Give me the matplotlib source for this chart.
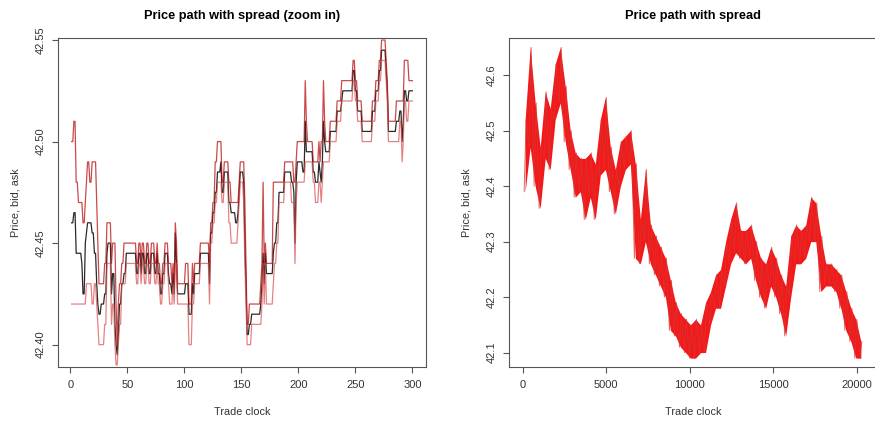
import numpy as np
import matplotlib
matplotlib.use("Agg")
import matplotlib.pyplot as plt

# zoom-in window: runs of constant quotes (run length, bid, trade price, ask)
run_len = [2, 2, 2, 3, 1, 2, 1, 1, 2, 2, 2, 2, 1, 1, 2, 3, 2, 1, 3, 1,
           2, 1, 1, 1, 1, 2, 2, 2, 9, 2, 2, 1, 2, 2, 2, 2, 3, 2, 1, 2,
           2, 2, 3, 1, 2, 1, 1, 1, 1, 1, 7, 3, 3, 1, 1, 5, 8, 1, 2, 2,
           2, 3, 1, 2, 4, 2, 4, 2, 1, 1, 3, 1, 1, 1, 2, 2, 8, 1, 1, 1,
           1, 1, 6, 1, 2, 2, 5, 6, 2, 1, 1, 1, 5, 2, 1, 1, 5, 2, 3, 1,
           1, 1, 1, 1, 1, 4, 6, 4, 1, 9, 2, 2, 4, 9, 3, 3, 2, 4, 1, 1,
           7, 3, 2, 1, 1, 2, 2, 4]
bid_run = [42.42, 42.42, 42.42, 42.42, 42.42, 42.42, 42.42, 42.43, 42.43, 42.43,
           42.42, 42.43, 42.42, 42.41, 42.40, 42.40, 42.41, 42.44, 42.44, 42.41,
           42.42, 42.40, 42.39, 42.39, 42.40, 42.41, 42.43, 42.43, 42.44, 42.43,
           42.44, 42.43, 42.44, 42.43, 42.44, 42.43, 42.44, 42.43, 42.44, 42.43,
           42.42, 42.43, 42.44, 42.43, 42.42, 42.42, 42.43, 42.42, 42.44, 42.44,
           42.42, 42.42, 42.40, 42.42, 42.42, 42.43, 42.44, 42.42, 42.45, 42.46,
           42.47, 42.48, 42.48, 42.47, 42.48, 42.46, 42.45, 42.45, 42.46, 42.47,
           42.48, 42.47, 42.44, 42.42, 42.40, 42.40, 42.41, 42.41, 42.42, 42.44,
           42.42, 42.44, 42.42, 42.43, 42.44, 42.45, 42.47, 42.48, 42.47, 42.47,
           42.44, 42.47, 42.48, 42.48, 42.49, 42.49, 42.49, 42.48, 42.47, 42.48,
           42.48, 42.47, 42.48, 42.49, 42.49, 42.49, 42.50, 42.51, 42.52, 42.52,
           42.53, 42.52, 42.51, 42.50, 42.51, 42.52, 42.53, 42.54, 42.53, 42.52,
           42.50, 42.50, 42.51, 42.49, 42.50, 42.52, 42.51, 42.52]
price_run = [42.460, 42.465, 42.445, 42.445, 42.440, 42.425, 42.450, 42.455, 42.460, 42.460,
             42.455, 42.445, 42.430, 42.420, 42.415, 42.420, 42.425, 42.445, 42.450, 42.425,
             42.435, 42.410, 42.400, 42.395, 42.405, 42.420, 42.430, 42.435, 42.445, 42.435,
             42.445, 42.435, 42.445, 42.435, 42.445, 42.435, 42.445, 42.435, 42.445, 42.435,
             42.425, 42.435, 42.445, 42.435, 42.430, 42.425, 42.435, 42.425, 42.455, 42.440,
             42.425, 42.430, 42.415, 42.430, 42.425, 42.435, 42.445, 42.430, 42.455, 42.465,
             42.475, 42.485, 42.490, 42.475, 42.485, 42.470, 42.465, 42.460, 42.465, 42.475,
             42.485, 42.480, 42.450, 42.430, 42.405, 42.410, 42.415, 42.420, 42.430, 42.445,
             42.430, 42.445, 42.435, 42.445, 42.450, 42.460, 42.475, 42.485, 42.480, 42.475,
             42.450, 42.480, 42.490, 42.485, 42.510, 42.495, 42.495, 42.485, 42.480, 42.490,
             42.485, 42.480, 42.490, 42.510, 42.500, 42.495, 42.505, 42.515, 42.520, 42.525,
             42.535, 42.525, 42.515, 42.505, 42.515, 42.525, 42.535, 42.545, 42.535, 42.525,
             42.505, 42.510, 42.515, 42.500, 42.510, 42.525, 42.520, 42.525]
ask_run = [42.50, 42.51, 42.48, 42.47, 42.47, 42.46, 42.47, 42.48, 42.49, 42.48,
           42.49, 42.49, 42.47, 42.45, 42.43, 42.43, 42.44, 42.46, 42.46, 42.44,
           42.45, 42.45, 42.42, 42.40, 42.42, 42.43, 42.44, 42.45, 42.45, 42.44,
           42.45, 42.44, 42.45, 42.44, 42.45, 42.44, 42.45, 42.44, 42.45, 42.44,
           42.43, 42.44, 42.45, 42.44, 42.44, 42.43, 42.44, 42.43, 42.46, 42.45,
           42.43, 42.44, 42.42, 42.44, 42.43, 42.44, 42.45, 42.44, 42.46, 42.47,
           42.49, 42.50, 42.50, 42.48, 42.49, 42.48, 42.47, 42.47, 42.47, 42.48,
           42.49, 42.49, 42.47, 42.44, 42.41, 42.42, 42.42, 42.43, 42.44, 42.48,
           42.44, 42.45, 42.44, 42.48, 42.48, 42.48, 42.48, 42.49, 42.49, 42.48,
           42.48, 42.49, 42.50, 42.50, 42.53, 42.51, 42.50, 42.49, 42.49, 42.50,
           42.49, 42.50, 42.50, 42.53, 42.51, 42.50, 42.51, 42.52, 42.53, 42.53,
           42.54, 42.53, 42.52, 42.51, 42.52, 42.53, 42.54, 42.55, 42.54, 42.53,
           42.51, 42.52, 42.52, 42.52, 42.52, 42.54, 42.54, 42.53]

# full sample: low / high quote seen in each block of 300 trades
block_trades = 300
block_lo = [42.39, 42.47, 42.40, 42.36, 42.45, 42.43, 42.52, 42.55, 42.48, 42.43,
            42.38, 42.39, 42.34, 42.38, 42.34, 42.42, 42.43, 42.39, 42.35, 42.40,
            42.43, 42.44, 42.27, 42.26, 42.30, 42.26, 42.24, 42.22, 42.20, 42.14,
            42.13, 42.11, 42.10, 42.09, 42.09, 42.10, 42.10, 42.15, 42.18, 42.18,
            42.22, 42.26, 42.28, 42.27, 42.26, 42.27, 42.23, 42.20, 42.18, 42.22,
            42.20, 42.17, 42.13, 42.20, 42.26, 42.26, 42.27, 42.30, 42.30, 42.21,
            42.22, 42.22, 42.21, 42.18, 42.14, 42.12, 42.09, 42.09]
block_hi = [42.52, 42.65, 42.55, 42.47, 42.57, 42.54, 42.62, 42.65, 42.58, 42.50,
            42.46, 42.45, 42.45, 42.46, 42.44, 42.52, 42.56, 42.47, 42.43, 42.48,
            42.49, 42.50, 42.44, 42.34, 42.43, 42.33, 42.31, 42.29, 42.27, 42.23,
            42.19, 42.17, 42.16, 42.15, 42.16, 42.15, 42.19, 42.21, 42.24, 42.25,
            42.30, 42.34, 42.37, 42.32, 42.32, 42.33, 42.30, 42.27, 42.26, 42.29,
            42.27, 42.24, 42.22, 42.31, 42.33, 42.32, 42.33, 42.38, 42.37, 42.31,
            42.26, 42.26, 42.25, 42.24, 42.21, 42.18, 42.16, 42.12]

plt.rcParams["font.family"] = ["Liberation Sans", "DejaVu Sans"]


def r_style(ax, xticks, yticks, yfmt, title):
    for s in ax.spines.values():
        s.set_color("#555555")
        s.set_linewidth(0.8)
    ax.set_xticks(xticks)
    ax.set_yticks(yticks)
    ax.set_yticklabels([yfmt % v for v in yticks])
    ax.tick_params(length=4.5, width=0.8, color="#555555", labelsize=8,
                   labelcolor="#333333")
    ax.tick_params(axis="x", pad=5)
    ax.tick_params(axis="y", pad=4)
    for lab in ax.get_yticklabels():
        lab.set_rotation(90)
        lab.set_va("center")
    ax.set_xlabel("Trade clock", fontsize=7.8, color="#333333", labelpad=12)
    ax.set_ylabel("Price, bid, ask", fontsize=7.8, color="#333333", labelpad=11)
    ax.set_title(title, fontsize=9.2, fontweight="bold", pad=14)


fig = plt.figure(figsize=(8.75, 4.21), dpi=100)

# left: first 300 trades
bid = np.repeat(bid_run, run_len)
price = np.repeat(price_run, run_len)
ask = np.repeat(ask_run, run_len)
t = np.arange(1, len(price) + 1)

ax1 = fig.add_axes([58 / 875, 54 / 421, 368 / 875, 329 / 421])
ax1.plot(t, price, color="#2a2a2a", linewidth=0.9)
ax1.plot(t, ask, color=(0.72, 0.05, 0.05, 0.75), linewidth=0.9)
ax1.plot(t, bid, color=(0.85, 0.3, 0.3, 0.7), linewidth=0.9)
n = len(t)
ax1.set_xlim(1 - 0.04 * (n - 1), n + 0.04 * (n - 1))
ax1.set_ylim(42.389, 42.551)
r_style(ax1, [0, 50, 100, 150, 200, 250, 300], [42.40, 42.45, 42.50, 42.55],
        "%.2f", "Price path with spread (zoom in)")

# right: whole sample, drawn as the band each block covers
lo = np.asarray(block_lo)
hi = np.asarray(block_hi)
start = np.arange(len(lo)) * block_trades
xs = np.column_stack([start + 0.3 * block_trades, start + 0.7 * block_trades]).ravel()
ys = np.column_stack([lo, hi]).ravel()

ax2 = fig.add_axes([509 / 875, 54 / 421, 368 / 875, 329 / 421])
ax2.fill_between(start + 0.5 * block_trades, lo, hi, color=(0.95, 0.0, 0.0, 0.9),
                 linewidth=0)
ax2.plot(xs, ys, color=(0.85, 0.2, 0.2, 0.75), linewidth=0.7)
N = len(lo) * block_trades
ax2.set_xlim(-0.04 * N, 1.04 * N)
ax2.set_ylim(42.074, 42.667)
r_style(ax2, [0, 5000, 10000, 15000, 20000], [42.1, 42.2, 42.3, 42.4, 42.5, 42.6],
        "%.1f", "Price path with spread")

fig.savefig("out.png", dpi=100)
plt.close(fig)
